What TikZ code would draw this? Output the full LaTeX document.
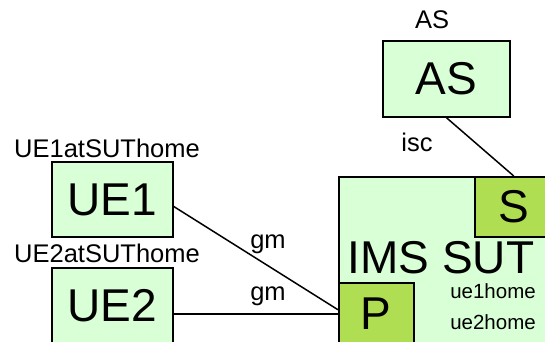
\documentclass[tikz,border=0pt]{standalone}
\usepackage{fontspec}
\setmainfont{Liberation Sans}
\usetikzlibrary{positioning}

\definecolor{palegreen}{RGB}{217,255,214}
\definecolor{portgreen}{RGB}{176,222,82}

\tikzset{
  entity/.style={draw, line width=1.5pt, fill=palegreen, font=\fontsize{46}{46}\selectfont, inner sep=0pt},
  port/.style={draw, line width=1.5pt, fill=portgreen, font=\fontsize{46}{46}\selectfont, inner sep=0pt},
  tag/.style={font=\fontsize{25.5}{26}\selectfont, inner sep=0pt},
  small/.style={font=\fontsize{20.5}{21}\selectfont, inner sep=0pt},
  link/.style={line width=1.5pt}
}

\begin{document}
\begin{tikzpicture}[x=1pt, y=-1pt]
\useasboundingbox (0,0) rectangle (545,341);
\clip (0,0) rectangle (545,341);

% system under test, cut by the page edge
\node[entity, minimum width=220pt, minimum height=180pt, anchor=north west] (sut) at (338,176) {};
\node[port, minimum width=78pt, minimum height=60pt, anchor=north west] (S) at (474,176) {S};
\node[port, minimum width=75pt, minimum height=62pt, anchor=north west] (P) at (338,282) {P};
\node[font=\fontsize{46}{46}\selectfont, inner sep=0pt] (sutname) at (441,258) {IMS SUT};
\node[small] (ue1home) at (493,291) {ue1home};
\node[small] (ue2home) at (493,322) {ue2home};

% application server
\node[entity, minimum width=127pt, minimum height=76pt] (as) at (446.5,79) {AS};
\node[tag] (aslabel) at (432,20) {AS};

% user equipment
\node[entity, minimum width=121pt, minimum height=75pt] (ue1) at (112.5,199.5) {UE1};
\node[tag] (ue1label) at (107,148) {UE1atSUThome};
\node[entity, minimum width=121pt, minimum height=75pt, anchor=north] (ue2) at (112.5,267) {UE2};
\node[tag] (ue2label) at (107,253) {UE2atSUThome};

% interfaces
\draw[link] ([yshift=-7pt]ue1.east) -- ([yshift=4pt]P.west);
\draw[link] (ue2.east |- P.west) -- (P.west);
\draw[link] (as.south) -- (S.north);
\node[tag] (gm1) at (268,244) {gm};
\node[tag] (gm2) at (268,296) {gm};
\node[tag] (isc) at (417,142) {isc};

\end{tikzpicture}
\end{document}
